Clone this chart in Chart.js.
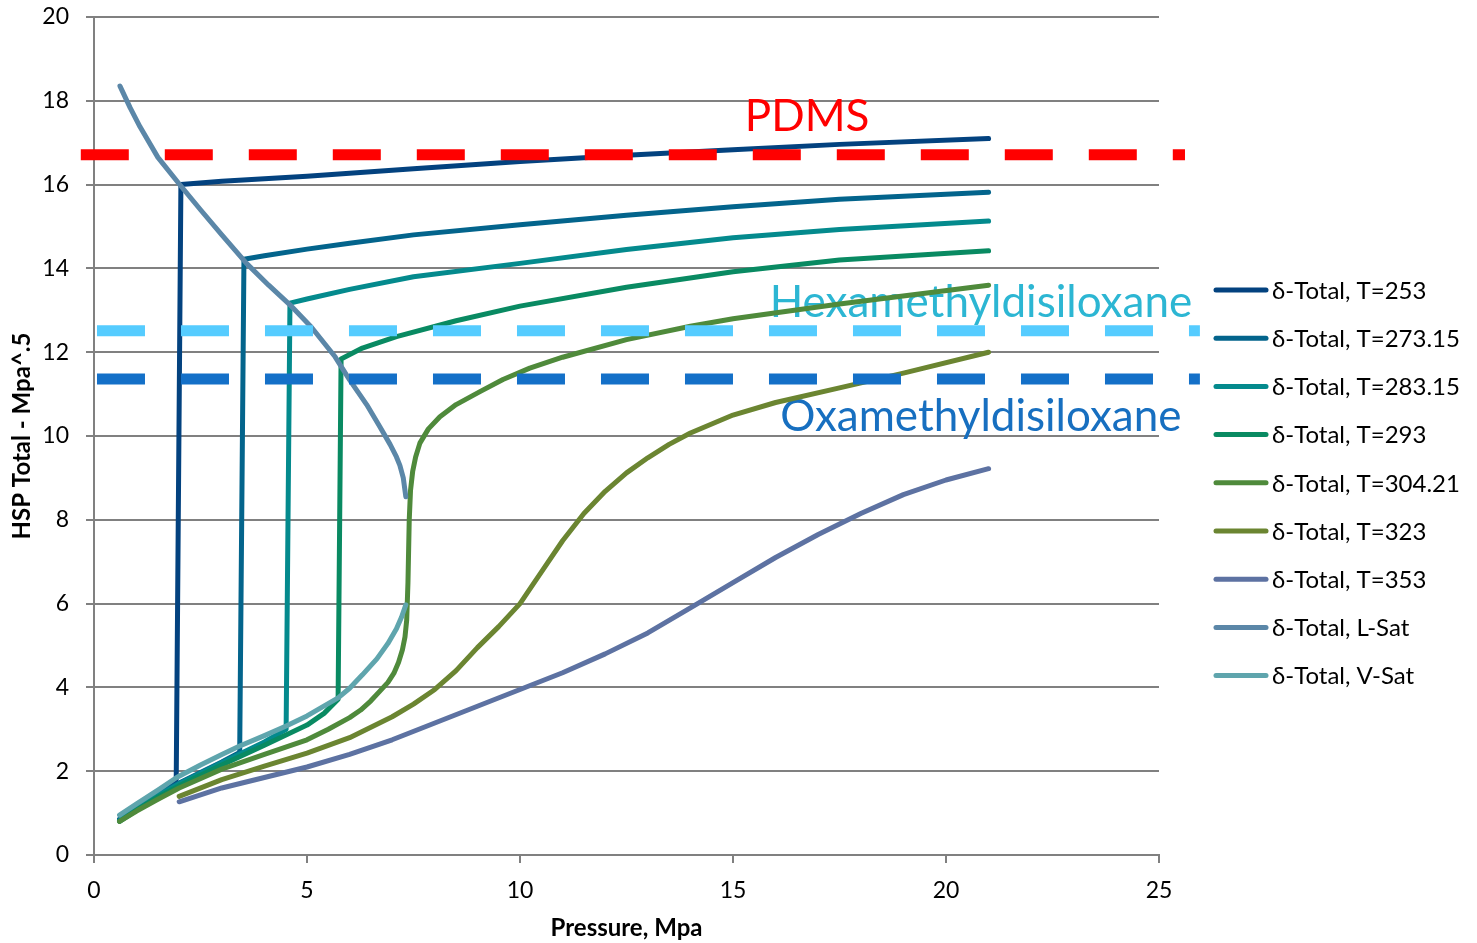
<!DOCTYPE html>
<html>
<head>
<meta charset="utf-8">
<script src="https://cdn.jsdelivr.net/npm/chart.js@4.4.0/dist/chart.umd.min.js"></script>
<style>
  html, body { margin: 0; padding: 0; background: #ffffff; }
</style>
</head>
<body>
<canvas id="myChart" width="1477" height="943"></canvas>
<script>
// series names
const seriesNames = ['δ-Total, T=253', 'δ-Total, T=273.15', 'δ-Total, T=283.15', 'δ-Total, T=293',
  'δ-Total, T=304.21', 'δ-Total, T=323', 'δ-Total, T=353', 'δ-Total, L-Sat', 'δ-Total, V-Sat'];

// pressure (x) and HSP total (y) for each series
const xT253 = [0.6, 1.0, 1.5, 1.93, 2.04, 3, 5, 7.5, 10, 12.5, 15, 17.5, 21];
const yT253 = [0.85, 1.15, 1.5, 1.8, 16.0, 16.08, 16.2, 16.38, 16.55, 16.7, 16.83, 16.96, 17.1];

const xT273 = [0.6, 1, 1.5, 2, 2.5, 3, 3.42, 3.52, 4, 5, 6, 7.5, 10, 12.5, 15, 17.5, 21];
const yT273 = [0.85, 1.12, 1.45, 1.72, 1.97, 2.22, 2.45, 14.22, 14.3, 14.46, 14.6, 14.8, 15.04, 15.27, 15.47, 15.65, 15.82];

const xT283 = [0.6, 1, 1.5, 2, 3, 4, 4.51, 4.6, 5, 6, 7.5, 10, 12.5, 15, 17.5, 21];
const yT283 = [0.82, 1.1, 1.42, 1.7, 2.2, 2.7, 3.0, 13.17, 13.27, 13.5, 13.8, 14.12, 14.45, 14.73, 14.93, 15.13];

const xT293 = [0.6, 1, 1.5, 2, 3, 4, 5, 5.4, 5.73, 5.8, 6.3, 7.1, 8.5, 10, 12.5, 15, 17.5, 21];
const yT293 = [0.8, 1.07, 1.38, 1.65, 2.15, 2.62, 3.1, 3.38, 3.72, 11.84, 12.1, 12.37, 12.75, 13.1, 13.55, 13.92, 14.2, 14.42];

const xT304 = [0.6, 1, 1.5, 2, 3, 4, 5, 5.5, 6, 6.26, 6.5, 6.7, 6.9, 7.04, 7.15, 7.24, 7.3, 7.34, 7.37, 7.4, 7.43, 7.48,
  7.55, 7.65, 7.85, 8.12, 8.5, 9.06, 9.6, 10.23, 11, 12.5, 14, 15, 17.5, 21];
const yT304 = [0.8, 1.05, 1.33, 1.6, 2.05, 2.4, 2.75, 3.0, 3.28, 3.46, 3.68, 3.9, 4.12, 4.34, 4.6, 4.9, 5.2, 5.6, 6.5, 8.0, 8.7, 9.15,
  9.5, 9.83, 10.17, 10.46, 10.75, 11.06, 11.35, 11.62, 11.88, 12.3, 12.62, 12.8, 13.15, 13.6];

const xT323 = [2, 3, 4, 5, 6, 7, 7.5, 8, 8.5, 9, 9.5, 10, 10.5, 11, 11.5, 12, 12.5, 13, 13.5, 14, 15, 16, 17.5, 19, 21];
const yT323 = [1.4, 1.8, 2.12, 2.43, 2.8, 3.3, 3.6, 3.95, 4.4, 4.95, 5.45, 6.0, 6.75, 7.5, 8.15, 8.68, 9.12, 9.48, 9.8, 10.07, 10.5, 10.8, 11.15, 11.5, 12.0];

const xT353 = [2, 3, 4, 5, 6, 7, 8, 9, 10, 11, 12, 13, 14, 15, 16, 17, 18, 19, 20, 21];
const yT353 = [1.27, 1.6, 1.85, 2.1, 2.4, 2.75, 3.15, 3.55, 3.95, 4.35, 4.8, 5.3, 5.9, 6.5, 7.1, 7.65, 8.15, 8.6, 8.95, 9.22];

const xLSat = [0.61, 0.85, 1.08, 1.5, 2.02, 2.5, 3, 3.58, 4.1, 4.6, 5.1, 5.66, 6.0, 6.4, 6.71, 6.95, 7.1, 7.18, 7.26, 7.32];
const yLSat = [18.35, 17.83, 17.38, 16.65, 15.99, 15.4, 14.8, 14.12, 13.6, 13.13, 12.6, 11.89, 11.34, 10.75, 10.22, 9.8, 9.5, 9.3, 9.0, 8.55];

const xVSat = [0.6, 1, 1.5, 1.94, 2.5, 3, 3.42, 4, 4.51, 5, 5.73, 6.0, 6.3, 6.64, 6.9, 7.1, 7.22, 7.32];
const yVSat = [0.95, 1.22, 1.55, 1.85, 2.15, 2.4, 2.6, 2.85, 3.08, 3.32, 3.75, 3.98, 4.3, 4.68, 5.05, 5.4, 5.68, 5.97];

const seriesX = [xT253, xT273, xT283, xT293, xT304, xT323, xT353, xLSat, xVSat];
const seriesY = [yT253, yT273, yT283, yT293, yT304, yT323, yT353, yLSat, yVSat];
const seriesColors = ['#03427f', '#03648c', '#048a8d', '#098a62', '#4f8a3b', '#6b8531', '#5d72a2', '#5b87a8', '#5fa5ad'];

// reference solvents / polymer
const refNames = ['PDMS', 'Hexamethyldisiloxane', 'Oxamethyldisiloxane'];
const refValues = [16.71, 12.51, 11.36];
const refFrom = [-0.31, 0.07, 0.07];
const refTo = [25.61, 25.96, 25.96];
const refColors = ['#ff0000', '#55ccff', '#1470c8'];
const refTextColors = ['#ff0000', '#2cb6d3', '#176fc0'];
const refTextX = [16.74, 20.82, 20.82];
const refTextY = [17.28, 12.84, 10.12];

const fontFamily = 'Lato, "Liberation Sans", sans-serif';

function pts(xs, ys) {
    return xs.map((x, i) => ({ x: x, y: ys[i] }));
}

const datasets = [];
seriesNames.forEach((name, i) => {
    datasets.push({
        label: name,
        data: pts(seriesX[i], seriesY[i]),
        borderColor: seriesColors[i],
        backgroundColor: seriesColors[i],
        borderWidth: 5,
        pointRadius: 0,
        tension: 0,
        borderCapStyle: 'round',
        borderJoinStyle: 'round',
        order: 20 - i
    });
});
refNames.forEach((name, i) => {
    datasets.push({
        label: name,
        data: [{ x: refFrom[i], y: refValues[i] }, { x: refTo[i], y: refValues[i] }],
        borderColor: refColors[i],
        borderWidth: 11,
        borderDash: [48, 36],
        borderCapStyle: 'butt',
        pointRadius: 0,
        clip: false,
        order: 0
    });
});

const overlay = {
    id: 'overlay',
    beforeDatasetsDraw(chart) {
        const ctx = chart.ctx;
        const xs = chart.scales.x, ys = chart.scales.y;
        ctx.save();
        ctx.font = '44px ' + fontFamily;
        ctx.textAlign = 'center';
        ctx.textBaseline = 'alphabetic';
        refNames.forEach((t, i) => {
            ctx.fillStyle = refTextColors[i];
            ctx.fillText(t, xs.getPixelForValue(refTextX[i]), ys.getPixelForValue(refTextY[i]));
        });
        ctx.restore();
    },
    afterDraw(chart) {
        // legend on the right
        const ctx = chart.ctx;
        ctx.save();
        ctx.font = '24px ' + fontFamily;
        ctx.textBaseline = 'middle';
        ctx.textAlign = 'left';
        seriesNames.forEach((name, i) => {
            const y = 290 + i * 48.2;
            ctx.strokeStyle = seriesColors[i];
            ctx.lineWidth = 5;
            ctx.lineCap = 'round';
            ctx.beginPath();
            ctx.moveTo(1216, y);
            ctx.lineTo(1266, y);
            ctx.stroke();
            ctx.fillStyle = '#000000';
            ctx.fillText(name, 1272, y + 1);
        });
        ctx.restore();
    }
};

const ctx = document.getElementById('myChart').getContext('2d');
const myChart = new Chart(ctx, {
    type: 'line',
    data: { datasets: datasets },
    plugins: [overlay],
    options: {
        responsive: false,
        animation: false,
        layout: { padding: { top: 17, right: 318, left: 0, bottom: 0 } },
        plugins: {
            legend: { display: false },
            tooltip: { enabled: false }
        },
        scales: {
            x: {
                type: 'linear',
                min: 0,
                max: 25,
                ticks: { stepSize: 5, color: '#000', font: { family: fontFamily, size: 23 }, padding: 14 },
                grid: { drawOnChartArea: false, drawTicks: true, tickLength: 8, color: '#808080', lineWidth: 2 },
                border: { color: '#808080', width: 2 },
                title: { display: true, text: 'Pressure, Mpa', color: '#000',
                    font: { family: fontFamily, size: 24, weight: 'bold' }, padding: { top: 0, bottom: 0 } },
                afterFit: (s) => { s.height = 88; s.paddingLeft = 0; s.paddingRight = 0; }
            },
            y: {
                min: 0,
                max: 20,
                ticks: { stepSize: 2, color: '#000', font: { family: fontFamily, size: 23 }, padding: 17 },
                grid: { color: '#808080', lineWidth: 2, tickLength: 8 },
                border: { color: '#808080', width: 2 },
                title: { display: true, text: 'HSP Total - Mpa^.5', color: '#000',
                    font: { family: fontFamily, size: 24, weight: 'bold' }, padding: { top: 8, bottom: 0 } },
                afterFit: (s) => { s.width = 94; s.paddingTop = 0; s.paddingBottom = 0; }
            }
        }
    }
});
</script>
</body>
</html>
